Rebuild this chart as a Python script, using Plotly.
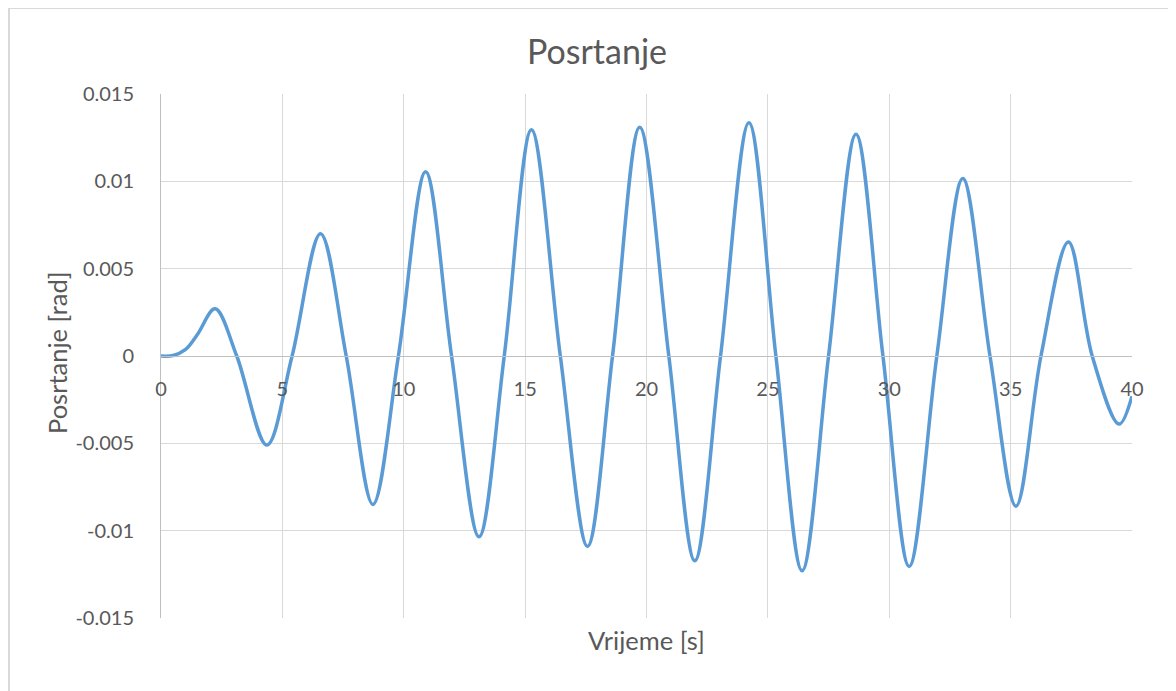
import plotly.graph_objects as go

# Data (extrema and zero crossings)
time_s = [0, 0.5, 1.0, 1.5, 2.23, 3.12, 4.36, 5.40, 6.57, 7.63, 8.73, 9.78,
          10.90, 11.97, 13.10, 14.14, 15.26, 16.45, 17.57, 18.60, 19.72, 20.92,
          21.99, 23.05, 24.22, 25.33, 26.41, 27.50, 28.63, 29.74, 30.82, 31.96,
          33.03, 34.15, 35.22, 36.25, 37.38, 38.36, 39.47, 40.0]
pitch_rad = [0, 0.00003, 0.00036, 0.00123, 0.0027, 0, -0.0051, 0, 0.0070, 0,
             -0.0085, 0, 0.01055, 0, -0.01035, 0, 0.01295, 0, -0.0109, 0,
             0.0131, 0, -0.01172, 0, 0.01336, 0, -0.0123, 0, 0.0127, 0,
             -0.01205, 0, 0.01016, 0, -0.0086, 0, 0.00653, 0, -0.0039, -0.0023]

x_ticks = [0, 5, 10, 15, 20, 25, 30, 35, 40]
y_ticks = [0.015, 0.01, 0.005, 0, -0.005, -0.01, -0.015]
y_tick_labels = ["0.015", "0.01", "0.005", "0", "-0.005", "-0.01", "-0.015"]

title_text = "Posrtanje"
x_title = "Vrijeme [s]"
y_title = "Posrtanje [rad]"

FONT = "Lato"
GRAY = "#595959"
GRID = "#d9d9d9"

# page is offset by the browser's 8px body margin
OFF = 8
W, H = 1176 - OFF, 691 - OFF
L = 161 - OFF
T = 94 - OFF
R = W - (1132 - OFF)
B = H - (618 - OFF)
pw = W - L - R
ph = H - T - B


def px(xp):
    return (xp - OFF - L) / pw


def py(yp):
    return (H - B - (yp - OFF)) / ph


fig = go.Figure()
fig.add_trace(go.Scatter(
    x=time_s, y=pitch_rad, mode="lines",
    line=dict(color="#5B9BD5", width=3.5, shape="spline", smoothing=1),
    showlegend=False, hoverinfo="x+y",
))

fig.update_layout(
    width=W, height=H,
    margin=dict(l=L, r=R, t=T, b=B, pad=0),
    paper_bgcolor="white", plot_bgcolor="white",
    font=dict(family=FONT, color=GRAY, size=20),
    title=dict(text=title_text, xref="container", yref="container",
               x=(597 - OFF) / W, y=1 - (52 - OFF) / H, xanchor="center",
               yanchor="middle",
               font=dict(family=FONT, size=34, color=GRAY)),
    xaxis=dict(range=[0, 40], tickvals=x_ticks, showgrid=True, gridcolor=GRID,
               gridwidth=1, zeroline=False, showline=True, linecolor="#bfbfbf",
               linewidth=1, anchor="free", position=0.5, ticks="",
               ticklabelstandoff=15,
               tickfont=dict(family=FONT, size=20, color=GRAY)),
    yaxis=dict(range=[-0.015, 0.015], tickvals=y_ticks, ticktext=y_tick_labels,
               showgrid=True, gridcolor=GRID, gridwidth=1, zeroline=False,
               showline=True, linecolor="#bfbfbf", linewidth=1, ticks="",
               ticklabelstandoff=22,
               tickfont=dict(family=FONT, size=20, color=GRAY)),
    annotations=[
        dict(text=x_title, xref="paper", yref="paper", x=0.5,
             y=py(640), xanchor="center", yanchor="middle",
             showarrow=False, font=dict(family=FONT, size=25.5, color=GRAY)),
        dict(text=y_title, xref="paper", yref="paper", x=px(57),
             y=py(353), xanchor="center", yanchor="middle",
             textangle=-90, showarrow=False,
             font=dict(family=FONT, size=25.5, color=GRAY)),
    ],
    shapes=[
        dict(type="rect", xref="paper", yref="paper",
             x0=px(9), x1=px(1200), y0=py(720), y1=py(8),
             line=dict(color=GRID, width=2), fillcolor="rgba(0,0,0,0)",
             layer="below"),
    ],
)

fig.write_html("out.html")
